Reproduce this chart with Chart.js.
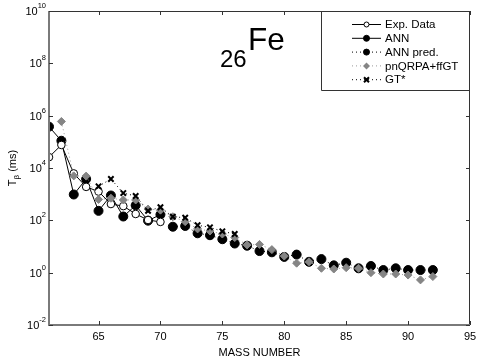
<!DOCTYPE html>
<html>
<head>
<meta charset="utf-8">
<script src="https://cdn.jsdelivr.net/npm/chart.js@4.4.1/dist/chart.umd.min.js"></script>
<style>
html,body{margin:0;padding:0;background:#fff;}
#c{display:block;}
</style>
</head>
<body>
<canvas id="c" width="478" height="359"></canvas>
<script>
// ---- data (mass number A, half-life T in ms) ----
const expA  = [61,62,63,64,65,66,67,68,69,70];
const expT  = [2.6e4,7.6e4,6.2e3,1.9e3,1.26e3,420,350,175,103,87];
const annA  = [61,62,63,64,65,66,67,68,69,70];
const annT  = [3.8e5,1.1e5,970,3.8e3,230,890,140,375,97,166];
const predA = [71,72,73,74,75,76,77,78,79,80,81,82,83,84,85,86,87,88,89,90,91,92];
const predT = [57,61,32,27,19,13,10.7,6.7,6.0,4.0,4.9,2.6,3.3,1.9,2.4,1.47,1.8,1.26,1.47,1.26,1.26,1.26];
const qrpaA = [62,63,64,65,66,67,68,69,70,71,72,73,74,75,76,77,78,79,80,81,82,83,84,85,86,87,88,89,90,91,92];
const qrpaT = [6e5,5e3,4.9e3,630,700,600,600,270,245,137,89,47,39,30,22,11.5,12,7.6,4.3,2.3,2.6,1.47,1.38,1.55,1.47,1.0,0.89,0.89,0.81,0.53,0.71];
const gtA   = [65,66,67,68,69,70,71,72,73,74,75,76];
const gtT   = [2.0e3,3.8e3,1.1e3,850,230,316,137,126,65,54,38,30];

const xTicks = [65,70,75,80,85,90,95];
const yTickExp = [-2,0,2,4,6,8,10];
const legendLabels = ['Exp. Data','ANN','ANN pred.','pnQRPA+ffGT','GT*'];
const xTitle = 'MASS NUMBER';

const FONT = '"Liberation Sans", Arial, Helvetica, sans-serif';
const pts = (a,t)=>a.map((x,i)=>({x:x,y:t[i]}));

const styles = {
  exp:  {pointStyle:'circle', r:3.8, fill:'#ffffff', stroke:'#000000', lw:1, line:'#000000', dash:[]},
  ann:  {pointStyle:'circle', r:4.5, fill:'#000000', stroke:'#000000', lw:1, line:'#000000', dash:[]},
  pred: {pointStyle:'circle', r:4.5, fill:'#000000', stroke:'#000000', lw:1, line:'#000000', dash:[1,3]},
  qrpa: {pointStyle:'rectRot', r:4, fill:'#858585', stroke:'#858585', lw:1, line:'#9a9a9a', dash:[1,3]},
  gt:   {pointStyle:'crossRot', r:3.8, fill:'#000000', stroke:'#000000', lw:2, line:'#000000', dash:[1,3]}
};
function ds(label, data, s){
  return {label, data, borderColor:s.line, borderWidth:1, borderDash:s.dash,
    pointStyle:s.pointStyle, pointRadius:s.r, pointBackgroundColor:s.fill,
    pointBorderColor:s.stroke, pointBorderWidth:s.lw, fill:false, tension:0};
}

const decor = {
  id:'decor',
  afterDraw(chart){
    const ctx = chart.ctx, a = chart.chartArea;
    const xs = chart.scales.x, ys = chart.scales.y;
    ctx.save();
    // frame
    ctx.strokeStyle = '#333'; ctx.lineWidth = 1;
    ctx.beginPath();
    ctx.moveTo(a.left, a.top+0.5); ctx.lineTo(a.right, a.top+0.5);
    ctx.moveTo(a.right-0.5, a.top); ctx.lineTo(a.right-0.5, a.bottom);
    ctx.stroke();
    ctx.strokeStyle = '#7a7a7a'; ctx.lineWidth = 2;
    ctx.beginPath();
    ctx.moveTo(a.left, a.top); ctx.lineTo(a.left, a.bottom);
    ctx.lineTo(a.right, a.bottom);
    ctx.stroke();
    // ticks inward
    ctx.strokeStyle = '#333'; ctx.lineWidth = 1;
    ctx.beginPath();
    xTicks.forEach(v=>{
      const px = Math.round(xs.getPixelForValue(v))+0.5;
      ctx.moveTo(px, a.bottom); ctx.lineTo(px, a.bottom-4);
      ctx.moveTo(px, a.top); ctx.lineTo(px, a.top+4);
    });
    yTickExp.forEach(e=>{
      const py = Math.round(ys.getPixelForValue(Math.pow(10,e)))+0.5;
      ctx.moveTo(a.left, py); ctx.lineTo(a.left+4, py);
      ctx.moveTo(a.right, py); ctx.lineTo(a.right-4, py);
    });
    ctx.stroke();
    // x tick labels
    ctx.fillStyle = '#000';
    ctx.font = '11px '+FONT;
    ctx.textAlign = 'center'; ctx.textBaseline = 'top';
    xTicks.forEach(v=>{
      ctx.fillText(String(v), xs.getPixelForValue(v), a.bottom+6);
    });
    // y tick labels 10^e
    yTickExp.forEach(e=>{
      const py = ys.getPixelForValue(Math.pow(10,e));
      const sup = String(e);
      ctx.font = '7.5px '+FONT;
      const sw = ctx.measureText(sup).width;
      const right = a.left-3;
      ctx.textAlign='left'; ctx.textBaseline='alphabetic';
      ctx.fillText(sup, right-sw, py-3);
      ctx.font = '11px '+FONT;
      ctx.textAlign='right';
      ctx.fillText('10', right-sw, py+4);
    });
    // x title
    ctx.font = '11px '+FONT;
    ctx.textAlign='center'; ctx.textBaseline='alphabetic';
    ctx.fillText(xTitle, (a.left+a.right)/2, 356);
    // y title rotated: T_beta (ms)
    ctx.save();
    ctx.translate(16, (a.top+a.bottom)/2);
    ctx.rotate(-Math.PI/2);
    ctx.font = '11px '+FONT;
    const w1 = ctx.measureText('T').width;
    ctx.font = '8px '+FONT;
    const w2 = ctx.measureText('\u03b2').width;
    ctx.font = '11px '+FONT;
    const w3 = ctx.measureText(' (ms)').width;
    let sx = -(w1+w2+w3)/2;
    ctx.textAlign='left';
    ctx.fillText('T', sx, 0); sx += w1;
    ctx.font = '8px '+FONT; ctx.fillText('\u03b2', sx, 3); sx += w2;
    ctx.font = '11px '+FONT; ctx.fillText(' (ms)', sx, 0);
    ctx.restore();
    // title 26Fe
    ctx.textAlign='left'; ctx.textBaseline='alphabetic';
    ctx.font = '24px '+FONT;
    ctx.fillText('26', 220, 67);
    ctx.font = '31.5px '+FONT;
    ctx.fillText('Fe', 248, 50);
    // legend
    const lx0 = 321, lx1 = a.right, ly0 = a.top, ly1 = 90;
    ctx.fillStyle='#fff';
    ctx.fillRect(lx0, ly0+1, lx1-lx0-1, ly1-ly0-1);
    ctx.strokeStyle='#333'; ctx.lineWidth=1;
    ctx.beginPath();
    ctx.moveTo(lx0+0.5, ly0); ctx.lineTo(lx0+0.5, ly1+0.5); ctx.lineTo(lx1, ly1+0.5);
    ctx.stroke();
    const order = [styles.exp, styles.ann, styles.pred, styles.qrpa, styles.gt];
    const rows = [24, 37.8, 51.6, 65.4, 79.2];
    order.forEach((s,i)=>{
      const y = rows[i];
      ctx.strokeStyle = s.line; ctx.lineWidth = 1; ctx.setLineDash(s.dash);
      ctx.beginPath(); ctx.moveTo(352, y+0.5); ctx.lineTo(381, y+0.5); ctx.stroke();
      ctx.setLineDash([]);
      const lr = s.pointStyle==='circle' ? (i===0?2.5:3) : 3;
      ctx.fillStyle = s.fill; ctx.strokeStyle = s.stroke; ctx.lineWidth = s.lw;
      ctx.beginPath();
      if (s.pointStyle==='circle'){ ctx.arc(366.5, y+0.5, lr, 0, Math.PI*2); ctx.fill(); ctx.stroke(); }
      else if (s.pointStyle==='rectRot'){ ctx.moveTo(366.5,y-3); ctx.lineTo(370,y+0.5); ctx.lineTo(366.5,y+4); ctx.lineTo(363,y+0.5); ctx.closePath(); ctx.fill(); }
      else { ctx.moveTo(364,y-2); ctx.lineTo(369,y+3); ctx.moveTo(369,y-2); ctx.lineTo(364,y+3); ctx.stroke(); }
      ctx.fillStyle='#000';
      ctx.font = '11.5px '+FONT; ctx.textAlign='left'; ctx.textBaseline='middle';
      ctx.fillText(legendLabels[i], 385, y+1);
    });
    ctx.restore();
  }
};

new Chart(document.getElementById('c'), {
  type:'line',
  data:{ datasets:[
    ds(legendLabels[4], pts(gtA,gtT), styles.gt),
    ds(legendLabels[3], pts(qrpaA,qrpaT), styles.qrpa),
    ds(legendLabels[0], pts(expA,expT), styles.exp),
    ds(legendLabels[2], pts(predA,predT), styles.pred),
    ds(legendLabels[1], pts(annA,annT), styles.ann)
  ]},
  options:{
    responsive:false, animation:false, devicePixelRatio:1,
    layout:{padding:{left:49, right:8, top:11, bottom:34}},
    plugins:{legend:{display:false}, tooltip:{enabled:false}, title:{display:false}},
    scales:{
      x:{type:'linear', min:61, max:95, display:false},
      y:{type:'logarithmic', min:1e-2, max:1e10, display:false}
    }
  },
  plugins:[decor]
});
</script>
</body>
</html>
